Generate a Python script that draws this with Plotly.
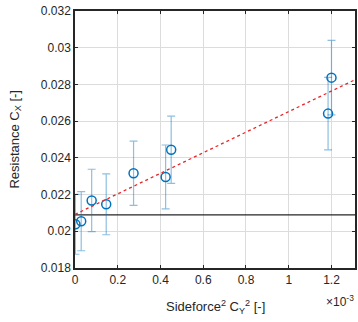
import plotly.graph_objects as go

# data (x in units of 1e-3)
sideforce2 = [0.002, 0.029, 0.078, 0.146, 0.274, 0.424, 0.450, 1.184, 1.200]
resistance = [0.02038, 0.02055, 0.02168, 0.02147, 0.02316, 0.02296, 0.02444, 0.02641, 0.02837]
err = [0.00163, 0.00161, 0.00170, 0.00166, 0.00175, 0.00174, 0.00183, 0.00197, 0.00203]
fit_x = [0.0, 1.31]
fit_intercept = 0.02092
fit_slope = 0.0056  # per unit of x (x in 1e-3)
baseline = 0.02089

fit_y = [fit_intercept + fit_slope * v for v in fit_x]

font = "Liberation Sans, Arial, Helvetica, sans-serif"
axcol = "#262626"

fig = go.Figure()
fig.add_trace(go.Scatter(
    x=[0, 1.31], y=[baseline, baseline], mode="lines",
    line=dict(color="#262626", width=1.3), showlegend=False, hoverinfo="skip"))
fig.add_trace(go.Scatter(
    x=sideforce2, y=resistance, mode="markers",
    marker=dict(symbol="circle-open", size=9, color="#0072BD", line=dict(width=1.5)),
    error_y=dict(type="data", array=err, visible=True, color="rgba(0,114,189,0.45)",
                 thickness=1.2, width=4),
    showlegend=False))
fig.add_trace(go.Scatter(
    x=fit_x, y=fit_y, mode="lines",
    line=dict(color="#E8262A", width=1.3, dash="3px,3px"), showlegend=False))

fig.update_layout(
    width=358, height=322,
    margin=dict(l=75, r=3, t=11, b=54),
    paper_bgcolor="white", plot_bgcolor="white",
    font=dict(family=font, size=12, color=axcol),
    xaxis=dict(range=[0, 1.31], tickvals=[0, 0.2, 0.4, 0.6, 0.8, 1.0, 1.2],
               ticktext=["0", "0.2", "0.4", "0.6", "0.8", "1", "1.2"],
               showgrid=True, gridcolor="#dcdcdc", gridwidth=1, automargin=False,
               zeroline=False, showline=True, linecolor=axcol, linewidth=1.5,
               mirror="ticks", ticks="inside", ticklen=3, tickcolor=axcol,
               ticklabeloverflow="allow"),
    yaxis=dict(range=[0.018, 0.032], automargin=False,
               tickvals=[0.018, 0.02, 0.022, 0.024, 0.026, 0.028, 0.03, 0.032],
               ticktext=["0.018", "0.02", "0.022", "0.024", "0.026", "0.028", "0.03", "0.032"],
               showgrid=True, gridcolor="#dcdcdc", gridwidth=1,
               zeroline=False, showline=True, linecolor=axcol, linewidth=1.5,
               mirror="ticks", ticks="inside", ticklen=3, tickcolor=axcol,
               ticklabeloverflow="allow"),
    annotations=[
        dict(text="Sideforce<sup>2</sup> C<sub>Y</sub><sup>2</sup> [-]", xref="paper", yref="paper",
             x=0.5, y=-0.15, xanchor="center", yanchor="middle", showarrow=False,
             font=dict(size=13, color=axcol)),
        dict(text="Resistance C<sub>X</sub> [-]", xref="paper", yref="paper",
             x=-0.214, y=0.5, xanchor="center", yanchor="middle", textangle=-90,
             showarrow=False, font=dict(size=13, color=axcol)),
        dict(text="\u00d710<sup>-3</sup>", xref="paper", yref="paper",
             x=1.004, y=-0.13, xanchor="right", yanchor="middle",
             showarrow=False, font=dict(size=12, color=axcol)),
    ],
)

fig.write_html("out.html", config={"displayModeBar": False},
               post_script="document.body.style.margin='0';document.body.style.overflow='hidden';")
